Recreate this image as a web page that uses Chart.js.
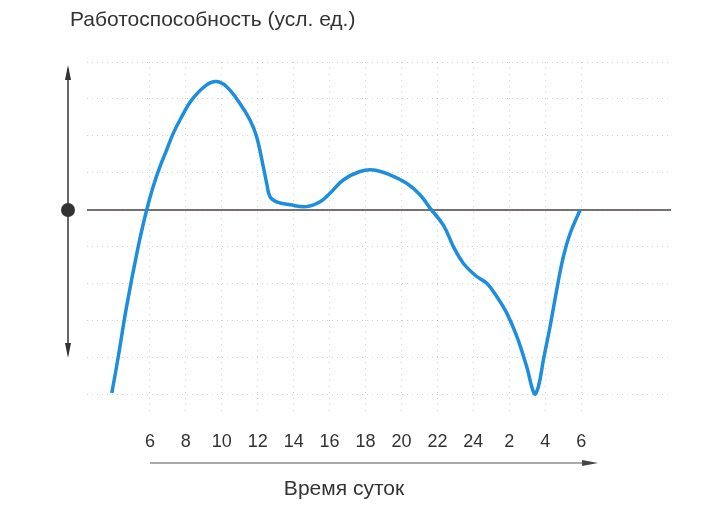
<!DOCTYPE html>
<html>
<head>
<meta charset="utf-8">
<script src="https://cdn.jsdelivr.net/npm/chart.js@4/dist/chart.umd.min.js"></script>
<style>
  body { margin: 0; background: #fff; }
  #wrap { width: 708px; height: 515px; position: relative; }
</style>
</head>
<body>
<div id="wrap"><canvas id="myChart"></canvas></div>
<script>
// hours of day (continuing past 24 into the next morning)
var hours = [3.88, 4.24, 4.70, 5.35, 5.82, 6.18, 6.56, 6.93, 7.30, 7.77, 8.32, 9.16, 9.71, 10.27, 11.01,
             11.57, 11.94, 12.31, 12.50, 12.68, 13.05, 13.80, 14.72, 15.47, 16.02, 16.76, 17.69, 18.43,
             19.36, 20.29, 21.03, 21.59, 22.33, 22.89, 23.44, 24.19, 24.75, 25.30, 25.86, 26.42, 26.97,
             27.40, 27.62, 27.90, 28.27, 28.64, 29.01, 29.39, 29.94];
// working capacity, conventional units
var capacity = [-4.95, -3.97, -2.62, -0.99, 0, 0.63, 1.17, 1.62, 2.07, 2.52, 2.97, 3.38, 3.47, 3.33, 2.88,
                2.43, 1.98, 1.17, 0.72, 0.36, 0.22, 0.14, 0.09, 0.22, 0.45, 0.81, 1.04, 1.08,
                0.95, 0.72, 0.41, 0.05, -0.41, -0.99, -1.44, -1.80, -1.98, -2.34, -2.79, -3.42, -4.24,
                -4.97, -4.78, -4.05, -3.15, -2.16, -1.26, -0.63, 0];
var tickHours = [6, 8, 10, 12, 14, 16, 18, 20, 22, 24, 26, 28, 30];
var tickLabels = ["6", "8", "10", "12", "14", "16", "18", "20", "22", "24", "2", "4", "6"];
var gridLevels = [-5, -4, -3, -2, -1, 0, 1, 2, 3, 4];
var yTitle = "Работоспособность (усл. ед.)";
var xTitle = "Время суток";

function setup() {
  var points = [];
  for (var i = 0; i < hours.length; i++) {
    points.push({x: hours[i], y: capacity[i]});
  }

  // arrows, dot and captions
  var decor = {
    id: 'decor',
    afterDraw: function(chart) {
      var ctx = chart.ctx, xs = chart.scales.x, ys = chart.scales.y;
      ctx.save();
      // vertical double arrow
      var ax = 68, top = 65, bot = 358;
      ctx.strokeStyle = '#333';
      ctx.fillStyle = '#333';
      ctx.lineWidth = 1.5;
      ctx.beginPath(); ctx.moveTo(ax, top + 4); ctx.lineTo(ax, bot - 4); ctx.stroke();
      ctx.beginPath(); ctx.moveTo(ax, top); ctx.lineTo(ax - 3, top + 15); ctx.lineTo(ax + 3, top + 15); ctx.closePath(); ctx.fill();
      ctx.beginPath(); ctx.moveTo(ax, bot); ctx.lineTo(ax - 3, bot - 15); ctx.lineTo(ax + 3, bot - 15); ctx.closePath(); ctx.fill();
      ctx.beginPath(); ctx.arc(ax, ys.getPixelForValue(0), 7, 0, Math.PI * 2); ctx.fill();

      // horizontal time arrow
      var ay = 463, x0 = xs.getPixelForValue(6), x1 = xs.getPixelForValue(30.94);
      ctx.lineWidth = 1;
      ctx.strokeStyle = '#555';
      ctx.beginPath(); ctx.moveTo(x0, ay); ctx.lineTo(x1 - 6, ay); ctx.stroke();
      ctx.fillStyle = '#444';
      ctx.beginPath(); ctx.moveTo(x1, ay); ctx.lineTo(x1 - 16, ay - 3); ctx.lineTo(x1 - 16, ay + 3); ctx.closePath(); ctx.fill();

      // captions
      ctx.fillStyle = '#333';
      ctx.font = '21px "Liberation Sans", Arial, sans-serif';
      ctx.textBaseline = 'alphabetic';
      ctx.textAlign = 'left';
      ctx.fillText(yTitle, 70, 26);
      ctx.textAlign = 'center';
      ctx.fillText(xTitle, 344, 495);
      ctx.restore();
    }
  };

  var ctx = document.getElementById('myChart').getContext('2d');
  var chart = new Chart(ctx, {
    type: 'line',
    data: {
      datasets: [{
        label: 'capacity',
        data: points,
        borderColor: '#1d8ede',
        borderWidth: 3.5,
        pointRadius: 0,
        tension: 0.4,
        order: 0
      }, {
        label: 'zero',
        data: [{x: 2.5, y: 0}, {x: 35, y: 0}],
        borderColor: '#4a4240',
        borderWidth: 1.5,
        pointRadius: 0,
        order: 1
      }]
    },
    options: {
      responsive: true,
      maintainAspectRatio: false,
      animation: false,
      layout: { padding: {left: 87, right: 37, top: 62, bottom: 44} },
      plugins: { legend: {display: false}, tooltip: {enabled: false} },
      scales: {
        x: {
          type: 'linear',
          min: 2.5,
          max: 35,
          afterBuildTicks: function(axis) {
            axis.ticks = tickHours.map(function(v) { return {value: v}; });
          },
          ticks: {
            padding: 18,
            color: '#333',
            font: {size: 18, family: '"Liberation Sans", Arial, sans-serif'},
            maxRotation: 0,
            autoSkip: false,
            callback: function(v) { return tickLabels[tickHours.indexOf(v)]; }
          },
          border: {display: false, dash: [1, 5]},
          grid: {
            drawTicks: false,
            color: 'rgba(150,150,150,0.45)',
            lineWidth: 1
          }
        },
        y: {
          min: -5.5,
          max: 4,
          afterBuildTicks: function(axis) {
            axis.ticks = gridLevels.map(function(v) { return {value: v}; });
          },
          ticks: {display: false},
          border: {display: false, dash: [1, 4]},
          grid: {
            drawTicks: false,
            color: 'rgba(150,150,150,0.45)',
            lineWidth: 1
          }
        }
      }
    },
    plugins: [decor]
  });
}
window.onload = setup;
</script>
</body>
</html>
